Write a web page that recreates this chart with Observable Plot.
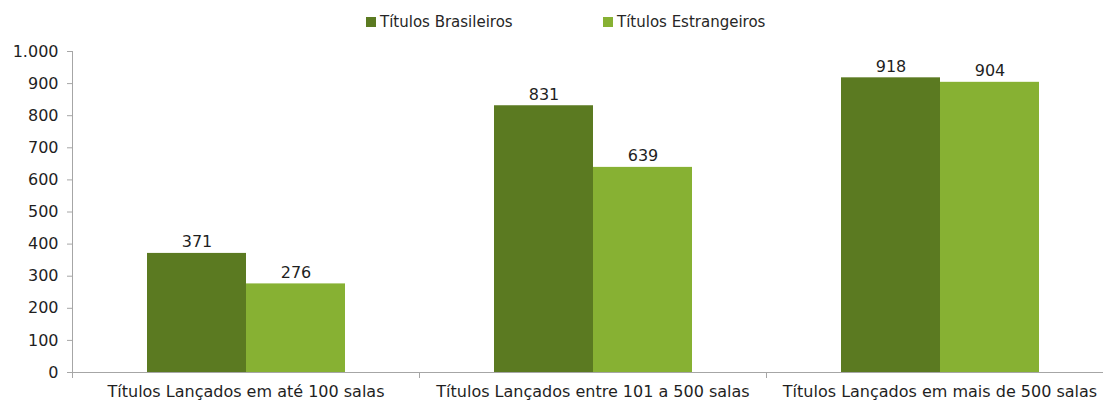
<!DOCTYPE html>
<html>
<head>
<meta charset="utf-8">
<script src="https://cdn.jsdelivr.net/npm/d3@7"></script>
<script src="https://cdn.jsdelivr.net/npm/@observablehq/plot@0.6"></script>
<style>
  html, body { margin: 0; padding: 0; background: #fff; overflow: hidden; }
  body { width: 1103px; height: 403px; font-family: "DejaVu Sans", sans-serif; color: #262626; }
  #legend { height: 40px; position: relative; font-size: 15px; }
  .item { position: absolute; top: 13px; display: flex; align-items: center; white-space: nowrap; }
  .sw { width: 10px; height: 10px; margin-right: 4px; }
</style>
</head>
<body>
<div id="legend"></div>
<div id="chart"></div>
<script>
const categories = [
  "Títulos Lançados em até 100 salas",
  "Títulos Lançados entre 101 a 500 salas",
  "Títulos Lançados em mais de 500 salas"
];
const series = ["Títulos Brasileiros", "Títulos Estrangeiros"];
const brasileiros = [371, 831, 918];
const estrangeiros = [276, 639, 904];
const yTicks = [0, 100, 200, 300, 400, 500, 600, 700, 800, 900, 1000];
const colors = ["#5b7a21", "#87b133"];

const data = [];
categories.forEach((c, i) => {
  data.push({category: c, series: series[0], value: brasileiros[i]});
  data.push({category: c, series: series[1], value: estrangeiros[i]});
});

const ptBR = d3.formatLocale({decimal: ",", thousands: ".", grouping: [3], currency: ["R$", ""]});
const fmt = ptBR.format(",");

// legend
const legend = document.getElementById("legend");
const legendLeft = [366, 603];
series.forEach((s, i) => {
  const it = document.createElement("div");
  it.className = "item";
  it.style.left = legendLeft[i] + "px";
  const sw = document.createElement("span");
  sw.className = "sw";
  sw.style.background = colors[i];
  const t = document.createElement("span");
  t.textContent = s;
  it.append(sw, t);
  legend.append(it);
});

const H = 363, mt = 11, mb = 31;
const axisColor = "#a6a6a6";
const chart = Plot.plot({
  width: 1103,
  height: H,
  marginTop: mt,
  marginBottom: mb,
  marginLeft: 71,
  marginRight: -10,
  style: {fontFamily: "DejaVu Sans, sans-serif", fontSize: "16px", color: "#1f1f1f", background: "#fff", overflow: "visible"},
  fx: {domain: categories, paddingInner: 0, paddingOuter: 0, label: null},
  x: {domain: series, paddingInner: 0, paddingOuter: 0.7525, axis: null},
  y: {domain: [0, 1000], label: null},
  color: {domain: series, range: colors},
  marks: [
    Plot.barY(data, {fx: "category", x: "series", y: "value", fill: "series"}),
    Plot.text(data, {fx: "category", x: "series", y: "value", text: d => fmt(d.value), lineAnchor: "bottom", dy: -6, fill: "#1f1f1f", fontSize: 16}),
    Plot.ruleY([0], {stroke: axisColor}),
    Plot.frame({anchor: "left", insetTop: H - mt - mb, insetBottom: -5, stroke: axisColor}),
    Plot.frame({anchor: "left", facet: "super", insetBottom: -5, stroke: axisColor}),
    Plot.axisY({ticks: yTicks, tickSize: 5, tickPadding: 9, tickFormat: fmt, stroke: axisColor, fill: "#1f1f1f", label: null, fontSize: 16}),
    Plot.axisFx({anchor: "bottom", tickSize: 0, tickPadding: 13, label: null, fontSize: 16, fill: "#1f1f1f"})
  ]
});
document.getElementById("chart").append(chart);
</script>
</body>
</html>
